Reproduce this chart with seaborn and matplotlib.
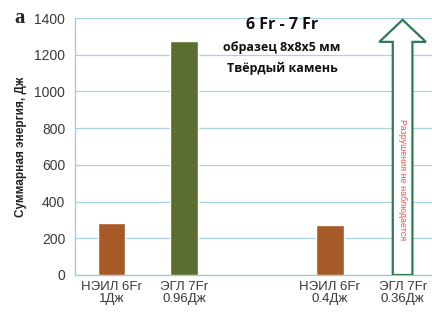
import matplotlib
matplotlib.use("Agg")
import matplotlib.pyplot as plt
from matplotlib.patches import FancyArrow
from matplotlib.ticker import FixedFormatter
import seaborn as sns
import pandas as pd
import numpy as np

# data
slots = ["НЭИЛ 6Fr\n1Дж", "ЭГЛ 7Fr\n0.96Дж", " ", "НЭИЛ 6Fr\n0.4Дж", "ЭГЛ 7Fr\n0.36Дж"]
bar_labels = ["НЭИЛ 6Fr\n1Дж", "ЭГЛ 7Fr\n0.96Дж", "НЭИЛ 6Fr\n0.4Дж"]
bar_values = [283, 1274, 272]
bar_colors = ["#A65A28", "#5B6E2F", "#A65A28"]
arrow_slot = 4
arrow_top = 1390
arrow_text = "Разрушения не наблюдается"
yticks = [0, 200, 400, 600, 800, 1000, 1200, 1400]

sns.set_style("white")
plt.rcParams["font.family"] = ["Liberation Sans", "DejaVu Sans"]

fig = plt.figure(figsize=(4.32, 3.13), dpi=100)
ax = fig.add_axes([75 / 432, 1 - 275 / 313, 364 / 432, 257 / 313])

df = pd.DataFrame({"cat": bar_labels, "val": bar_values})
sns.barplot(data=df, x="cat", y="val", hue="cat", order=slots, palette=bar_colors,
            width=0.38, legend=False, ax=ax, zorder=3, saturation=1)

ax.set_ylim(0, 1400)
ax.set_xlim(-0.5, 4.5)
ax.set_yticks(yticks)
ax.yaxis.set_major_formatter(FixedFormatter([str(t) for t in yticks]))
ax.tick_params(axis="y", length=0, labelsize=10, labelcolor="#3A3A3A", pad=7)
ax.tick_params(axis="x", length=0, labelsize=9.5, labelcolor="#3A3A3A", pad=4)
ax.set_xticks(range(len(slots)))
ax.set_xticklabels(slots, linespacing=1.1)
ax.set_xticks(np.arange(0.5, 4.5, 1), minor=True)
ax.tick_params(axis="x", which="minor", length=3, color="#9CC8DA", direction="out")
ax.grid(axis="y", color="#A9D3E3", linewidth=0.9, zorder=0)
ax.set_axisbelow(True)
for side in ["top", "right"]:
    ax.spines[side].set_visible(False)
for side in ["left", "bottom"]:
    ax.spines[side].set_color("#9CC8DA")
    ax.spines[side].set_linewidth(0.9)
ax.set_xlabel("")
ax.set_ylabel("Суммарная энергия, Дж", fontsize=8.5, fontweight="bold", color="#222222", labelpad=5)

arrow = FancyArrow(arrow_slot, 0, 0, arrow_top, width=0.27, head_width=0.64,
                   head_length=120, length_includes_head=True,
                   facecolor="white", edgecolor="#2F7A55", linewidth=1.6, zorder=4)
ax.add_patch(arrow)
ax.text(arrow_slot, 520, arrow_text, rotation=-90, ha="center", va="center",
        fontsize=6.5, color="#EE5544", zorder=5)

tfont = ["Open Sans", "DejaVu Sans"]
fig.text(282 / 432, 1 - 25 / 313, "6 Fr - 7 Fr", ha="center", va="center",
         fontsize=11.5, fontweight="bold", family=tfont, color="#111111")
fig.text(282 / 432, 1 - 48 / 313, "образец 8x8x5 мм", ha="center", va="center",
         fontsize=9, fontweight="bold", family=tfont, color="#111111")
fig.text(282 / 432, 1 - 68 / 313, "Твёрдый камень", ha="center", va="center",
         fontsize=9, fontweight="bold", family=tfont, color="#111111")
fig.text(14 / 432, 1 - 18 / 313, "a", ha="left", va="center", fontsize=15,
         fontweight="bold", family=["Liberation Serif", "DejaVu Serif"])

fig.savefig("out.png", dpi=100)
